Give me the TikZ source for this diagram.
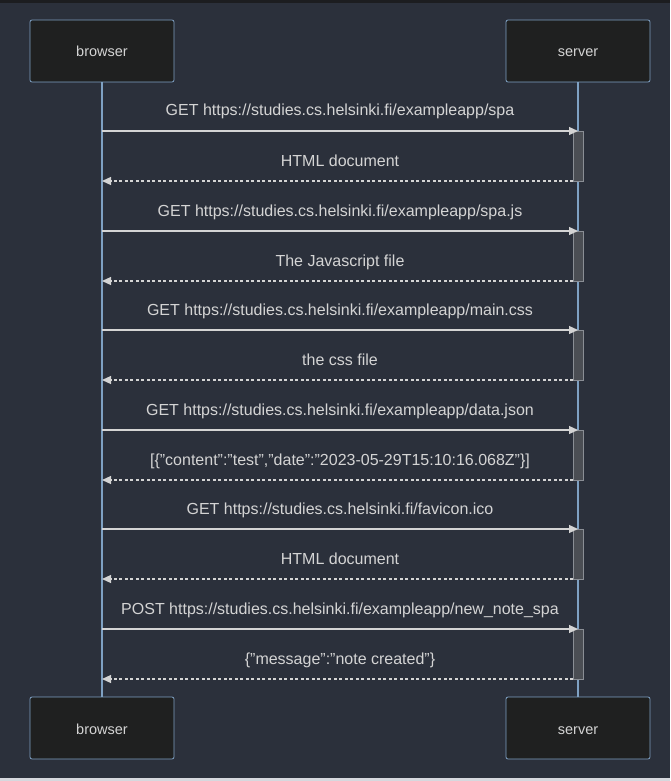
\documentclass[tikz,border=0pt]{standalone}
\usepackage{fontspec}
\setmainfont{Liberation Sans}
\usetikzlibrary{arrows.meta}

\definecolor{Backdrop}{HTML}{2B303B}
\definecolor{Topband}{HTML}{1C1D20}
\definecolor{Footband}{HTML}{D6D8DE}
\definecolor{Boxfill}{HTML}{1F2020}
\definecolor{Edge}{HTML}{7FA1C3}
\definecolor{Ink}{HTML}{D4D4D4}
\definecolor{Activfill}{HTML}{4B4E54}
\definecolor{Activedge}{HTML}{8A8E95}

\tikzset{
  actor/.style={draw=Edge, fill=Boxfill, rounded corners=2pt, line width=0.8pt,
    minimum width=144pt, minimum height=62pt, text=Ink, inner sep=0pt,
    text height=15pt, text depth=3pt, font=\fontsize{14.5}{16}\selectfont},
  lifeline/.style={draw=Edge, line width=1.6pt},
  request/.style={draw=Ink, line width=1.2pt, -{Triangle[length=9pt,width=8pt]}},
  reply/.style={request, dash pattern=on 3pt off 2.5pt},
  msglabel/.style={text=Ink, inner sep=0pt, text height=15pt, text depth=3pt,
    font=\fontsize{16}{18}\selectfont},
  activation/.style={draw=Activedge, fill=Activfill, line width=0.6pt}
}

\newcommand{\drawexchange}[4]{% Parameters: name, level of the request, request label, reply label
  \draw[activation] (573,#2) rectangle (583,#2+50);
  \coordinate (#1sendb) at (102,#2);
  \coordinate (#1sends) at (578,#2);
  \coordinate (#1backs) at (573,#2+50);
  \coordinate (#1backb) at (102,#2+50);
  \node[msglabel] (#1ask) at (340,#2-21) {#3};
  \node[msglabel] (#1answer) at (340,#2+29) {#4};
  \draw[request] (#1sendb) -- (#1sends);
  \draw[reply] (#1backs) -- (#1backb);
}

\begin{document}
\begin{tikzpicture}[x=1pt,y=-1pt]
  \fill[Backdrop] (0,0) rectangle (670,781);
  \fill[Topband] (0,0) rectangle (670,3);
  \fill[Footband] (0,778) rectangle (670,781);
  \useasboundingbox (0,0) rectangle (670,781);

  % participants
  \node[actor] (browsertop) at (102,51) {browser};
  \node[actor] (servertop) at (578,51) {server};
  \node[actor] (browserbot) at (102,728) {browser};
  \node[actor] (serverbot) at (578,728) {server};
  \draw[lifeline] (browsertop.south) -- (browserbot.north);
  \draw[lifeline] (servertop.south) -- (serverbot.north);

  % messages
  \drawexchange{spa}{131}{GET https://studies.cs.helsinki.fi/exampleapp/spa}{HTML document}
  \drawexchange{js}{231}{GET https://studies.cs.helsinki.fi/exampleapp/spa.js}{The Javascript file}
  \drawexchange{css}{330}{GET https://studies.cs.helsinki.fi/exampleapp/main.css}{the css file}
  \drawexchange{json}{430}{GET https://studies.cs.helsinki.fi/exampleapp/data.json}{[\{"content":"test","date":"2023-05-29T15:10:16.068Z"\}]}
  \drawexchange{icon}{529}{GET https://studies.cs.helsinki.fi/favicon.ico}{HTML document}
  \drawexchange{post}{629}{POST https://studies.cs.helsinki.fi/exampleapp/new\_note\_spa}{\{"message":"note created"\}}
\end{tikzpicture}
\end{document}
